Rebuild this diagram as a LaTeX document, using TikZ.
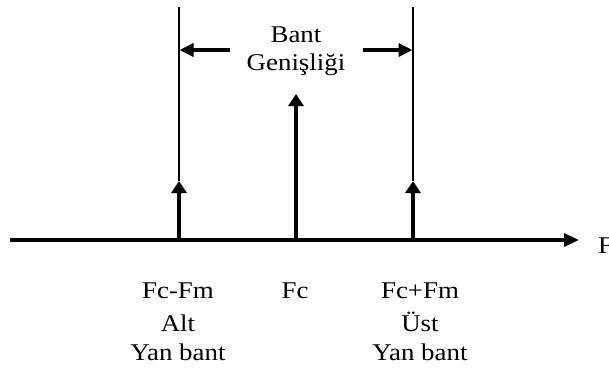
\documentclass[tikz,border=0pt]{standalone}
\usepackage{fontspec}
\setmainfont{Liberation Serif}
\usetikzlibrary{arrows.meta}
\begin{document}
\begin{tikzpicture}[x=1pt,y=-1pt,
  lbl/.style={inner sep=0pt,font=\fontsize{24}{30}\selectfont,align=center,xscale=1.12,transform shape},
  thin/.style={line width=1.3pt},
  thick/.style={line width=3.4pt},
  head/.style={-{Triangle[length=12pt,width=15pt]}},
  dimhead/.style={-{Triangle[length=14pt,width=13pt]}}]
\useasboundingbox (0,0) rectangle (609,369);
\clip (0,0) rectangle (609,369);
% frequency axis
\coordinate (ax0) at (10,240);
\coordinate (ax1) at (579,240);
\draw[line width=3.2pt,-{Triangle[length=15pt,width=13pt]}] (ax0) -- (ax1);
\node[lbl,anchor=base west] (f) at (598,253) {F};
% spectral lines
\coordinate (lb) at (179,240);
\coordinate (lt) at (179,181);
\coordinate (cb) at (296,240);
\coordinate (ct) at (296,94);
\coordinate (rb) at (413,240);
\coordinate (rt) at (413,181);
\draw[thick,head] (lb) -- (lt);
\draw[thick,head] (cb) -- (ct);
\draw[thick,head] (rb) -- (rt);
% band edges
\coordinate (lu) at (179,7);
\coordinate (ru) at (413,7);
\draw[thin] (lt) -- (lu);
\draw[thin] (rt) -- (ru);
% bandwidth marker
\coordinate (la) at (230,50);
\coordinate (lz) at (179.5,50);
\coordinate (ra) at (363,50);
\coordinate (rz) at (412.5,50);
\draw[thick,dimhead] (la) -- (lz);
\draw[thick,dimhead] (ra) -- (rz);
\node[lbl,anchor=base] (bw) at (296,42) {Bant};
\node[lbl,anchor=base] (bw2) at (296,70) {Genişliği};
% labels under the axis
\node[lbl,anchor=base] (l1) at (178,298) {Fc-Fm};
\node[lbl,anchor=base] (l2) at (178,331) {Alt};
\node[lbl,anchor=base] (l3) at (178,360) {Yan bant};
\node[lbl,anchor=base] (c1) at (295,298) {Fc};
\node[lbl,anchor=base] (r1) at (420,298) {Fc+Fm};
\node[lbl,anchor=base] (r2) at (420,331) {Üst};
\node[lbl,anchor=base] (r3) at (420,360) {Yan bant};
\end{tikzpicture}
\end{document}
